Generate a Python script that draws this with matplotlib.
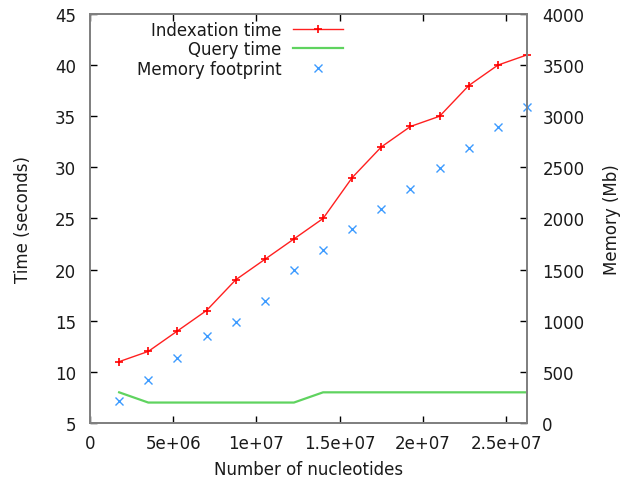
import matplotlib
matplotlib.use("Agg")
import matplotlib.pyplot as plt
from matplotlib.ticker import FixedLocator, FixedFormatter

plt.rcParams['font.family'] = ['DejaVu Sans']

nucleotides = [1.75e6, 3.5e6, 5.25e6, 7.0e6, 8.75e6, 1.05e7, 1.225e7, 1.4e7,
               1.575e7, 1.75e7, 1.925e7, 2.1e7, 2.275e7, 2.45e7, 2.625e7]
indexation_time = [11, 12, 14, 16, 19, 21, 23, 25, 29, 32, 34, 35, 38, 40, 41]
query_time = [8, 7, 7, 7, 7, 7, 7, 8, 8, 8, 8, 8, 8, 8, 8]
memory_mb = [215, 425, 640, 850, 990, 1195, 1495, 1695, 1895, 2090, 2290,
             2490, 2690, 2890, 3095]

x_ticks = [0, 5e6, 1e7, 1.5e7, 2e7, 2.5e7]
x_tick_labels = ["0", "5e+06", "1e+07", "1.5e+07", "2e+07", "2.5e+07"]
y_ticks = [5, 10, 15, 20, 25, 30, 35, 40, 45]
y2_ticks = [0, 500, 1000, 1500, 2000, 2500, 3000, 3500, 4000]

FS = 12

fig = plt.figure(figsize=(6.21, 4.81), dpi=100)
ax = fig.add_axes([90/621, 1-424/481, 437/621, 409/481])
ax2 = ax.twinx()

l1, = ax.plot(nucleotides, indexation_time, color='#ff2020', lw=1,
              marker='+', ms=5.5, mew=1.2, mec='#ff0000',
              label='Indexation time', clip_on=False)
l2, = ax.plot(nucleotides, query_time, color='#5fd35f', lw=1.6,
              label='Query time')
l3, = ax2.plot(nucleotides, memory_mb, linestyle='none', marker='x', ms=5.5,
               mew=1, color='#3d9bff', label='Memory footprint', clip_on=False)

ax.set_xlim(0, 2.625e7)
ax.set_ylim(5, 45)
ax2.set_ylim(0, 4000)

ax.xaxis.set_major_locator(FixedLocator(x_ticks))
ax.xaxis.set_major_formatter(FixedFormatter(x_tick_labels))
ax.yaxis.set_major_locator(FixedLocator(y_ticks))
ax2.yaxis.set_major_locator(FixedLocator(y2_ticks))

for a in (ax, ax2):
    for s in a.spines.values():
        s.set_color('#808080')
        s.set_linewidth(1.3)
ax.tick_params(axis='x', direction='in', length=5, width=1, top=True,
               labelsize=FS, pad=8, colors='#000000')
ax.tick_params(axis='y', direction='in', length=5, width=1, right=False,
               labelsize=FS, pad=10)
ax2.tick_params(axis='y', direction='in', length=5, width=1,
                labelsize=FS, pad=11)
for lab in ax.get_xticklabels() + ax.get_yticklabels() + ax2.get_yticklabels():
    lab.set_color('#1a1a1a')

ax.set_xlabel('Number of nucleotides', fontsize=FS, va='center',
              color='#1a1a1a')
ax.xaxis.set_label_coords(0.5, -0.113)
ax.set_ylabel('Time (seconds)', fontsize=FS, va='center', color='#1a1a1a')
ax.yaxis.set_label_coords(-0.154, 0.5)
ax2.set_ylabel('Memory (Mb)', fontsize=FS, va='center', rotation=90,
               color='#1a1a1a')
ax2.yaxis.set_label_coords(1.195, 0.5)

leg = ax.legend(handles=[l1, l2, l3], loc='upper right',
                bbox_to_anchor=(253/437, 1-7/409), markerfirst=False,
                frameon=False, fontsize=FS, handlelength=3.0,
                handletextpad=0.7, labelspacing=0.08, borderpad=0,
                borderaxespad=0, numpoints=1)
for t in leg.get_texts():
    t.set_color('#1a1a1a')
leg.set_zorder(5)

fig.savefig('out.png', dpi=100)
